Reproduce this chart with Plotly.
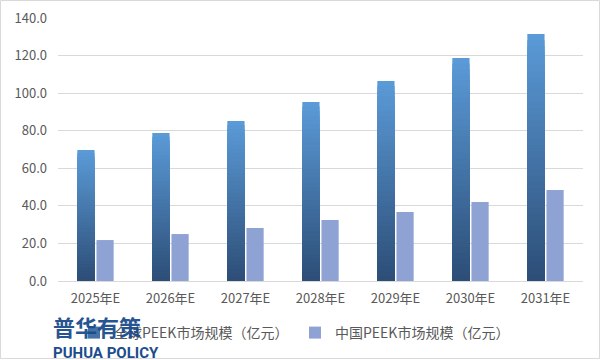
import plotly.graph_objects as go

categories = ["2025年E", "2026年E", "2027年E", "2028年E", "2029年E", "2030年E", "2031年E"]
global_vals = [69.8, 78.8, 85.2, 95.3, 106.4, 118.7, 131.5]
china_vals = [21.8, 25.0, 28.2, 32.5, 36.7, 42.0, 48.4]
series_names = ["全球PEEK市场规模（亿元）", "中国PEEK市场规模（亿元）"]
y_ticks = [0, 20, 40, 60, 80, 100, 120, 140]

W, H = 601, 360
ML, MR, MT, MB = 58, 18, 18, 79

def lerp(c1, c2, t):
    a = [int(c1[i:i+2], 16) for i in (1, 3, 5)]
    b = [int(c2[i:i+2], 16) for i in (1, 3, 5)]
    return "rgb(%d,%d,%d)" % tuple(round(a[k] + (b[k] - a[k]) * t) for k in range(3))

bottom_c, top_c = "#2C4D76", "#5B9BD8"
N = 40
fig = go.Figure()
# overlapping layers (tallest first, lightest), so the gradient has no seams
for k in range(N):
    frac = (N - k) / N
    fig.add_trace(go.Bar(
        x=categories,
        y=[v * frac for v in global_vals],
        offsetgroup="g",
        marker=dict(color=lerp(bottom_c, top_c, (N - k - 0.5) / N), line=dict(width=0)),
        name=series_names[0],
        legendgroup="g",
        showlegend=(k == N // 2),
        hoverinfo="skip",
    ))
fig.add_trace(go.Bar(
    x=categories, y=china_vals, offsetgroup="c",
    marker=dict(color="#8FA2D4", line=dict(width=0)),
    name=series_names[1],
))

fig.update_layout(
    width=W, height=H,
    margin=dict(l=ML, r=MR, t=MT, b=MB, autoexpand=False),
    paper_bgcolor="white", plot_bgcolor="white",
    barmode="group", bargap=0.49, bargroupgap=0.1,
    font=dict(family="Noto Sans CJK SC, Noto Sans, sans-serif", size=13, color="#595959"),
    xaxis=dict(showgrid=False, showline=False, ticks="", ticklabelstandoff=8,
               tickfont=dict(size=13, color="#595959")),
    yaxis=dict(range=[0, 140], tickvals=y_ticks, tickformat=".1f", showgrid=True,
               gridcolor="#D9D9D9", gridwidth=1, zeroline=True, zerolinecolor="#D9D9D9",
               zerolinewidth=1, ticks="", ticklabelstandoff=10,
               tickfont=dict(size=13, color="#595959")),
    legend=dict(orientation="h", xref="container", yref="container",
                x=74 / W, y=1 - 333 / H, xanchor="left", yanchor="middle",
                font=dict(size=14, color="#595959"), traceorder="normal",
                entrywidth=176, entrywidthmode="pixels", bgcolor="rgba(0,0,0,0)"),
    showlegend=True,
)

pw = W - ML - MR
ph = H - MT - MB
fig.add_shape(type="rect", xref="paper", yref="paper",
              x0=-(ML - 0.5) / pw, x1=1 + (MR - 1.5) / pw,
              y0=-(MB - 1.5) / ph, y1=1 + (MT - 0.5) / ph,
              line=dict(color="#D9D9D9", width=1), fillcolor="rgba(0,0,0,0)", layer="below")

def py(v):
    return (H - MB - v) / ph

fig.add_annotation(text="<b>普华有策</b>", xref="paper", yref="paper",
                   x=(51 - ML) / pw, y=py(308), xanchor="left", yanchor="top",
                   showarrow=False, opacity=0.95,
                   font=dict(family="Noto Sans CJK SC", size=22, color="#1B4C8C"))
fig.add_annotation(text="<b>PUHUA POLICY</b>", xref="paper", yref="paper",
                   x=(51 - ML) / pw, y=py(342), xanchor="left", yanchor="top",
                   showarrow=False,
                   font=dict(family="Liberation Sans Narrow, Roboto", size=15, color="#1B4C8C"))

fig.write_html("out.html", config={"displayModeBar": False},
               post_script="document.body.style.margin='0';document.body.style.padding='0';")
